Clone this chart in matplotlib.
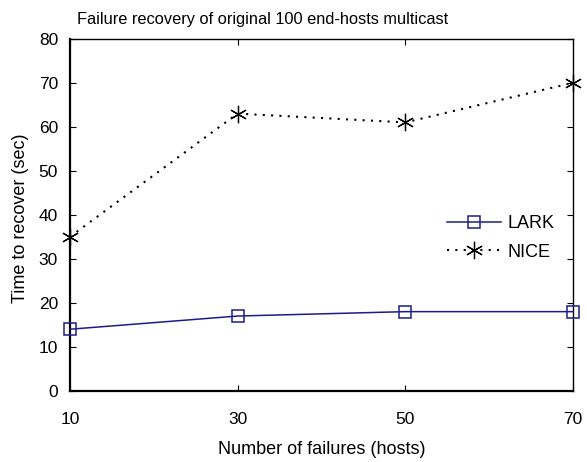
#!/usr/bin/env python3

import matplotlib
matplotlib.use("Agg")
import matplotlib.pyplot as plt

failures = [10, 30, 50, 70]
lark = [14, 17, 18, 18]
nice = [35, 63, 61, 70]
xticks = [10, 30, 50, 70]
yticks = [0, 10, 20, 30, 40, 50, 60, 70, 80]

plt.rcParams['font.family'] = ['Liberation Sans', 'DejaVu Sans']
plt.rcParams['font.size'] = 12

fig = plt.figure(figsize=(5.87, 4.62), dpi=100)
ax = fig.add_axes([0.119, 0.154, 0.857, 0.762])

ax.plot(failures, lark, color='#1c1c8a', lw=1.1, marker='s', markersize=9,
        markerfacecolor='none', markeredgecolor='#1c1c8a', markeredgewidth=1.1,
        label='LARK', clip_on=False, zorder=3)
ax.plot(failures, nice, color='black', lw=1.5, linestyle=(0, (1, 3)),
        marker=(6, 2, 0), markersize=12.5, markeredgewidth=0.9,
        label='NICE', clip_on=False, zorder=3)

ax.set_xlim(10, 70)
ax.set_ylim(0, 80)
ax.set_xticks(xticks)
ax.set_yticks(yticks)
ax.tick_params(direction='in', length=4, width=0.8, top=True, right=True,
               labelsize=12.5)
ax.tick_params(axis='x', pad=15)
ax.tick_params(axis='y', pad=8.5)
for side in ['left', 'bottom']:
    ax.spines[side].set_linewidth(1.6)
for side in ['right', 'top']:
    ax.spines[side].set_linewidth(1.0)

ax.set_xlabel('Number of failures (hosts)', fontsize=13)
ax.xaxis.set_label_coords(0.5, -0.142)
ax.set_ylabel('Time to recover (sec)', fontsize=13)
ax.yaxis.set_label_coords(-0.082, 0.49)
ax.set_title('Failure recovery of original 100 end-hosts multicast',
             fontsize=11.8, pad=11, x=0.384)

ax.legend(loc='center left', bbox_to_anchor=(0.75, 0.435), frameon=False,
          fontsize=13, handlelength=3.0, handletextpad=0.35, labelspacing=0.65,
          borderpad=0, borderaxespad=0)

fig.savefig('out.png', dpi=100)
